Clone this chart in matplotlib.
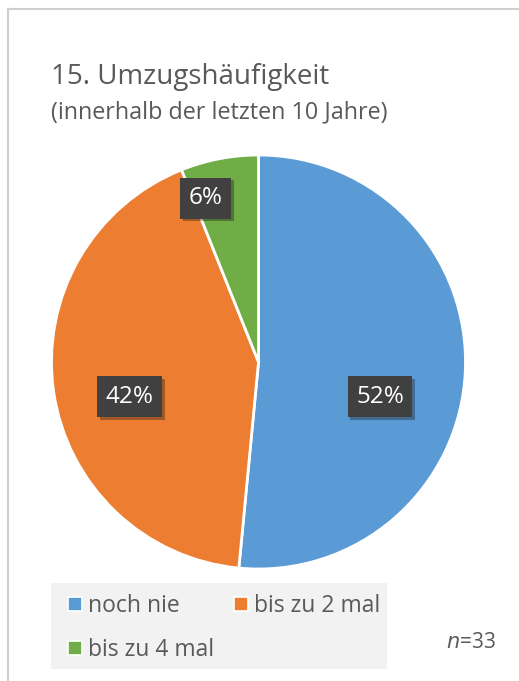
import matplotlib
matplotlib.use("Agg")
import matplotlib.pyplot as plt
from matplotlib.lines import Line2D
from matplotlib.patches import Rectangle
import matplotlib.patheffects as pe

categories = ["noch nie", "bis zu 2 mal", "bis zu 4 mal"]
counts = [17, 14, 2]
pct_labels = ["52%", "42%", "6%"]
colors = ["#5B9BD5", "#ED7D31", "#70AD47"]
title = "15. Umzugshäufigkeit"
subtitle = "(innerhalb der letzten 10 Jahre)"
n_text = "$\\mathit{n}$=33"

W, H = 519, 681
fig = plt.figure(figsize=(W / 100, H / 100), dpi=100)
plt.rcParams['font.family'] = ['Open Sans', 'DejaVu Sans']
txt = "#595959"

def fx(x):
    return x / W

def fy(y):
    return 1 - y / H

# frame (top and left only visible)
fig.add_artist(Line2D([fx(8), 1], [fy(9), fy(9)], color="#cfcfcf", lw=1.5, transform=fig.transFigure))
fig.add_artist(Line2D([fx(8), fx(8)], [fy(9), 0], color="#cfcfcf", lw=1.5, transform=fig.transFigure))

fig.text(fx(51), fy(84), title, fontsize=20, color=txt, va="baseline", ha="left")
fig.text(fx(51), fy(118), subtitle, fontsize=16.8, color=txt, va="baseline", ha="left")

# pie
cx, cy, r = 258.5, 362, 207
ax = fig.add_axes([fx(cx - r), fy(cy + r), 2 * r / W, 2 * r / H])
wedges, _ = ax.pie(counts, colors=colors, startangle=90, counterclock=False,
                   wedgeprops=dict(edgecolor="white", linewidth=2), radius=1)
ax.set_xlim(-1, 1)
ax.set_ylim(-1, 1)
ax.set_aspect("equal")
ax.axis("off")

label_pos = [(0.587, -0.169), (-0.621, -0.169), (-0.254, 0.792)]
for (lx, ly), lab in zip(label_pos, pct_labels):
    t = ax.text(lx, ly, lab, ha="center", va="center", fontsize=17.5, color="white",
                bbox=dict(boxstyle="square,pad=0.35", fc="#404040", ec="none"))
    t.get_bbox_patch().set_path_effects([pe.SimplePatchShadow(offset=(2, -2), alpha=0.35), pe.Normal()])

# legend background
fig.add_artist(Rectangle((fx(51), fy(669)), (387 - 51) / W, (669 - 583) / H,
                         transform=fig.transFigure, fc="#f2f2f2", ec="none", zorder=0))
handles = [Line2D([], [], marker="s", ls="none", markersize=9.5, markerfacecolor=c,
                  markeredgecolor="white", markeredgewidth=1.2) for c in colors]
order = [0, 2, 1]
leg = fig.legend([handles[i] for i in order], [categories[i] for i in order], ncol=2,
                 loc="upper left", bbox_to_anchor=(fx(65), fy(594)), frameon=False,
                 fontsize=16.5, labelcolor=txt, handletextpad=0.15, handlelength=0.85,
                 columnspacing=0.75, labelspacing=0.88, borderpad=0, borderaxespad=0)

fig.text(fx(446), fy(642), n_text, fontsize=15, color=txt, va="center", ha="left")

fig.savefig("out.png", dpi=100)
